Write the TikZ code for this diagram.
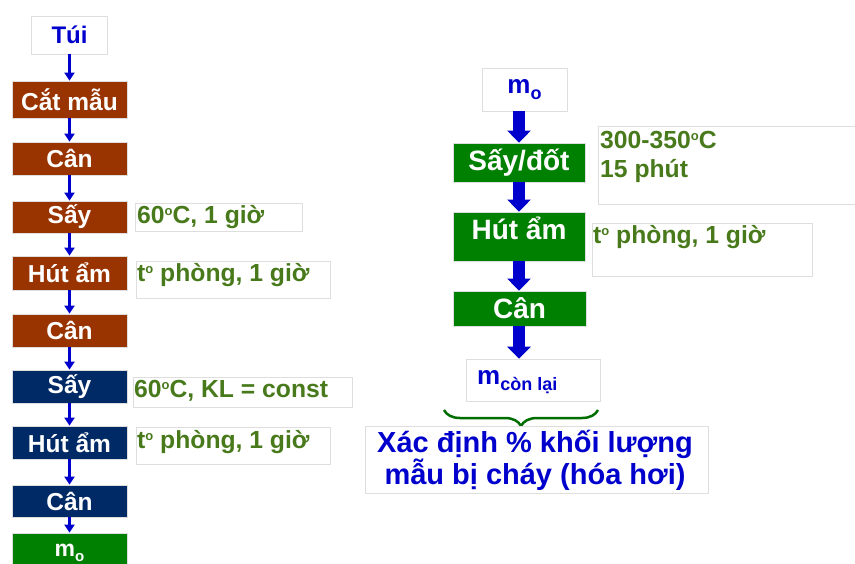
\documentclass[tikz,border=0pt]{standalone}
\usepackage{fontspec}
\setmainfont{Liberation Sans}
\usetikzlibrary{arrows.meta,decorations.pathreplacing}
\definecolor{brownbox}{RGB}{153,51,0}
\definecolor{navybox}{RGB}{0,42,102}
\definecolor{greenbox}{RGB}{0,128,0}
\definecolor{notegreen}{RGB}{72,122,28}
\definecolor{flowblue}{RGB}{0,0,204}
\definecolor{edgegray}{RGB}{222,222,222}
% small raised "o" used as the degree mark
\newcommand\dego{\raisebox{8pt}{\fontsize{13}{13}\selectfont o}}
\tikzset{
  stepbox/.style={draw=edgegray, line width=0.8pt, text=white, font=\bfseries\fontsize{24.5}{26}\selectfont,
    minimum width=115pt, inner sep=0pt},
  bigbox/.style={draw=edgegray, line width=0.8pt, fill=greenbox, text=white, font=\bfseries\fontsize{28}{30}\selectfont,
    minimum width=132pt, inner sep=0pt},
  notebox/.style={draw=edgegray, line width=0.6pt, fill=white, inner sep=0pt},
  notetext/.style={text=notegreen, font=\bfseries\fontsize{24.7}{29}\selectfont, anchor=west, inner sep=0pt, align=left},
  bluetext/.style={text=flowblue, font=\bfseries},
  smallarrow/.style={draw=flowblue, line width=3pt, -{Triangle[width=10pt,length=8pt]}},
  bigarrow/.style={draw=flowblue, line width=12pt, -{Triangle[width=23pt,length=12pt]}},
}
\begin{document}
\begin{tikzpicture}[x=1pt,y=-1pt]
\useasboundingbox[fill=white] (0,0) rectangle (855,563);

% ---- left column: sample preparation ----
\node[notebox, minimum width=76pt, minimum height=38pt, bluetext, font=\bfseries\fontsize{24}{26}\selectfont] (tui) at (69.5,35) {Túi};
\node[stepbox, fill=brownbox, minimum height=37pt] (cat)  at (69.5,99.5)  {Cắt mẫu};
\node[stepbox, fill=brownbox, minimum height=33pt] (can1) at (69.5,158.5) {Cân};
\node[stepbox, fill=brownbox, minimum height=32pt] (say1) at (69.5,217)   {Sấy};
\node[stepbox, fill=brownbox, minimum height=34pt] (hut1) at (69.5,273)   {Hút ẩm};
\node[stepbox, fill=brownbox, minimum height=33pt] (can2) at (69.5,330.5) {Cân};
\node[stepbox, fill=navybox,  minimum height=33pt] (say2) at (69.5,386.5) {Sấy};
\node[stepbox, fill=navybox,  minimum height=33pt] (hut2) at (69.5,442.5) {Hút ẩm};
\node[stepbox, fill=navybox,  minimum height=32pt] (can3) at (69.5,501)   {Cân};
\node[stepbox, fill=greenbox, minimum height=40pt, font=\bfseries\fontsize{23}{25}\selectfont] (m0) at (69.5,553)
  {m\raisebox{-5pt}{\fontsize{15}{15}\selectfont o}};

\foreach \a/\b in {tui/cat, cat/can1, can1/say1, say1/hut1, hut1/can2, can2/say2, say2/hut2, hut2/can3, can3/m0}
  \draw[smallarrow] (\a.south) -- (\b.north);

% condition notes, left
\node[notebox, minimum width=167pt, minimum height=28pt] (n1) at (218.5,217) {};
\node[notetext] (n1t) at (137,217) {60\dego C, 1 giờ};
\node[notebox, minimum width=194pt, minimum height=37pt] (n2) at (233,279.5) {};
\node[notetext] (n2t) at (137,275) {t\dego\ phòng, 1 giờ};
\node[notebox, minimum width=219pt, minimum height=30pt] (n3) at (242.5,392) {};
\node[notetext] (n3t) at (134,391) {60\dego C, KL = const};
\node[notebox, minimum width=194pt, minimum height=37pt] (n4) at (233,445.5) {};
\node[notetext] (n4t) at (137,442) {t\dego\ phòng, 1 giờ};

% ---- right column: burning test ----
\node[notebox, minimum width=85pt, minimum height=43pt, bluetext, font=\bfseries\fontsize{26}{28}\selectfont] (mo) at (524.5,89.5)
  {m\raisebox{-6pt}{\fontsize{18}{18}\selectfont o}};
\node[bigbox, minimum height=39pt] (sd)  at (519,162.5) {Sấy/đốt};
\node[bigbox, minimum height=49pt] (hut) at (519,236.5) {};
\node[text=white, font=\bfseries\fontsize{28}{30}\selectfont, inner sep=0pt] (hutT) at (519,228) {Hút ẩm};
\node[bigbox, minimum height=35pt, minimum width=133pt] (cn)  at (519.5,308.5) {Cân};
\node[notebox, minimum width=134pt, minimum height=42pt] (mcl) at (533,380) {};
\node[bluetext, font=\bfseries\fontsize{26}{28}\selectfont, anchor=west, inner sep=0pt] (mclT) at (477,382)
  {m\raisebox{-6pt}{\fontsize{18}{18}\selectfont còn lại}};

\draw[bigarrow] (mo.south -| sd.north) -- (sd.north);
\draw[bigarrow] (sd.south) -- (hut.north);
\draw[bigarrow] (hut.south) -- (cn.north -| hut.south);
\draw[bigarrow] (cn.south -| sd.south) -- (mcl.north -| sd.south);

% condition notes, right
\node[notebox, minimum width=262pt, minimum height=78pt] (r1) at (729,165) {};
\node[notetext] (r1t) at (600,157) {300-350\dego C\\15 phút};
\node[notebox, minimum width=220pt, minimum height=53pt] (r2) at (702,249.5) {};
\node[notetext] (r2t) at (593,237) {t\dego\ phòng, 1 giờ};

% brace under the remaining mass and the result
\coordinate (braceL) at (444,410);
\coordinate (braceR) at (598,410);
\draw[greenbox!85!black, line width=2.5pt, decorate, decoration={brace, amplitude=16pt}] (braceR) -- (braceL);
\node[notebox, minimum width=343pt, minimum height=67pt] (res) at (536.5,459.5) {};
\node[text=flowblue, font=\bfseries\fontsize{29}{32}\selectfont, align=center, inner sep=0pt] (resT) at (535,460)
  {Xác định \% khối lượng\\mẫu bị cháy (hóa hơi)};
\end{tikzpicture}
\end{document}
